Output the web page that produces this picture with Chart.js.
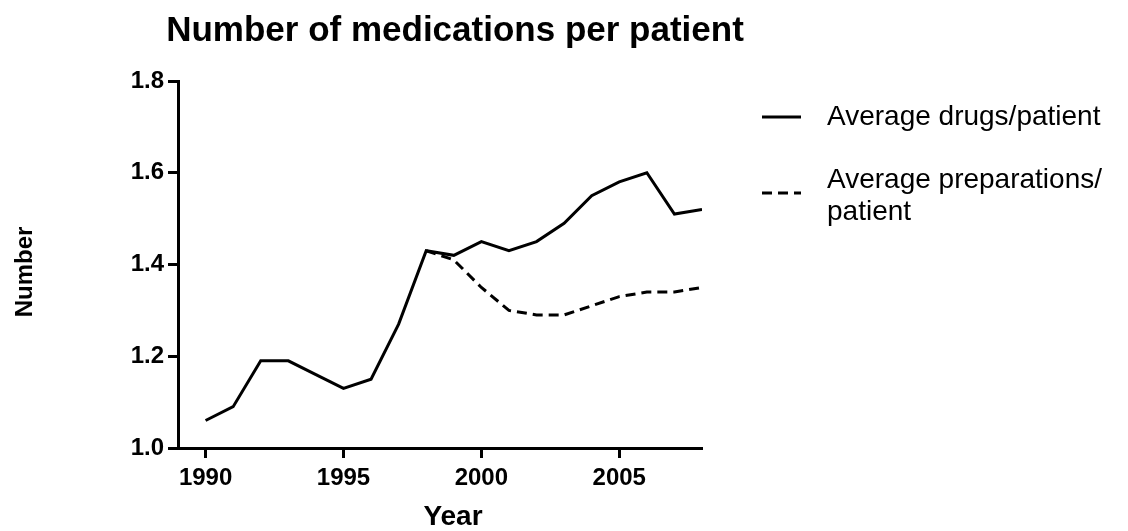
<!DOCTYPE html>
<html>
<head>
<meta charset="utf-8">
<script src="https://cdn.jsdelivr.net/npm/chart.js@4"></script>
<style>
  html, body { margin: 0; padding: 0; background: #fff; }
  #wrap { width: 1128px; height: 531px; }
</style>
</head>
<body>
<div id="wrap"><canvas id="chart" width="1128" height="531"></canvas></div>
<script>
const years = [1990, 1991, 1992, 1993, 1994, 1995, 1996, 1997, 1998, 1999,
               2000, 2001, 2002, 2003, 2004, 2005, 2006, 2007, 2008];
const drugsPerPatient = [1.06, 1.09, 1.19, 1.19, 1.16, 1.13, 1.15, 1.27, 1.43, 1.42,
                         1.45, 1.43, 1.45, 1.49, 1.55, 1.58, 1.60, 1.51, 1.52];
const prepsPerPatient = [null, null, null, null, null, null, null, null, 1.43, 1.41,
                         1.35, 1.30, 1.29, 1.29, 1.31, 1.33, 1.34, 1.34, 1.35];
const xTicks = [1990, 1995, 2000, 2005];
const yTicks = [1.0, 1.2, 1.4, 1.6, 1.8];
const legendLines = [["Average drugs/patient"], ["Average preparations/", "patient"]];
const chartTitle = "Number of medications per patient";
const xTitle = "Year";
const yTitle = "Number";

const font = '"Liberation Sans", Arial, Helvetica, sans-serif';

function toPoints(vals) {
    return years.map((y, i) => ({ x: y, y: vals[i] }));
}

// titles drawn by hand: the built-in title squeezes text to the plot width
const labels = {
    id: "labels",
    afterDraw(chart) {
        const ctx = chart.ctx;
        ctx.save();
        ctx.fillStyle = "#000";
        ctx.textAlign = "center";
        ctx.textBaseline = "alphabetic";
        ctx.font = "bold 35px " + font;
        ctx.fillText(chartTitle, 455, 41);
        ctx.font = "bold 28px " + font;
        ctx.fillText(xTitle, 453, 525);
        ctx.translate(25, 272);
        ctx.rotate(-Math.PI / 2);
        ctx.textBaseline = "middle";
        ctx.font = "bold 24px " + font;
        ctx.fillText(yTitle, 0, 0);
        ctx.restore();
    }
};

// legend drawn by hand so the second label can wrap on two lines
const sideLegend = {
    id: "sideLegend",
    afterDraw(chart) {
        const ctx = chart.ctx;
        const rows = [{ lineY: 117, textY: [117] }, { lineY: 193, textY: [180, 212] }];
        ctx.save();
        ctx.font = "28px " + font;
        ctx.fillStyle = "#000";
        ctx.textBaseline = "middle";
        chart.data.datasets.forEach((ds, i) => {
            const r = rows[i];
            ctx.strokeStyle = "#000";
            ctx.lineWidth = 3;
            ctx.setLineDash(ds.borderDash || []);
            ctx.beginPath();
            ctx.moveTo(762, r.lineY);
            ctx.lineTo(801, r.lineY);
            ctx.stroke();
            legendLines[i].forEach((t, j) => ctx.fillText(t, 827, r.textY[j]));
        });
        ctx.restore();
    }
};

new Chart(document.getElementById("chart"), {
    type: "line",
    data: {
        datasets: [
            {
                label: legendLines[0].join(" "),
                data: toPoints(drugsPerPatient),
                borderColor: "#000",
                borderWidth: 3,
                pointRadius: 0,
                tension: 0
            },
            {
                label: legendLines[1].join(" "),
                data: toPoints(prepsPerPatient),
                borderColor: "#000",
                borderWidth: 3,
                borderDash: [10, 6],
                pointRadius: 0,
                tension: 0
            }
        ]
    },
    options: {
        responsive: false,
        animation: false,
        layout: { padding: { left: 0, right: 426, top: 81, bottom: 0 } },
        plugins: {
            legend: { display: false },
            tooltip: { enabled: false },
            title: { display: false }
        },
        scales: {
            x: {
                type: "linear",
                min: 1989,
                max: 2008,
                afterBuildTicks: s => { s.ticks = xTicks.map(v => ({ value: v })); },
                afterFit: s => { s.height = 83; },
                border: { display: true, color: "#000", width: 3 },
                grid: { drawOnChartArea: false, drawTicks: true, tickLength: 10, tickWidth: 3, tickColor: "#000" },
                ticks: {
                    color: "#000", padding: 6,
                    font: { family: font, size: 24, weight: "bold" },
                    callback: v => String(v)
                }
            },
            y: {
                min: 1.0,
                max: 1.8,
                afterBuildTicks: s => { s.ticks = yTicks.map(v => ({ value: v })); },
                afterFit: s => { s.width = 178; },
                border: { display: true, color: "#000", width: 3 },
                grid: { drawOnChartArea: false, drawTicks: true, tickLength: 10, tickWidth: 3, tickColor: "#000" },
                ticks: {
                    color: "#000", padding: 4,
                    font: { family: font, size: 24, weight: "bold" },
                    callback: v => v.toFixed(1)
                }
            }
        }
    },
    plugins: [labels, sideLegend]
});
</script>
</body>
</html>
